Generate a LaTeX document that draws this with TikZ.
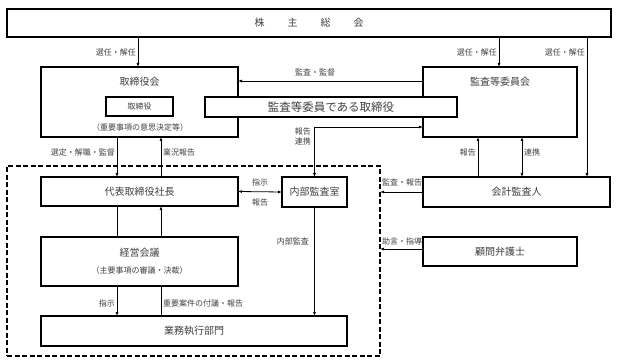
\documentclass[tikz,border=0pt]{standalone}
\usepackage{fontspec}
\newfontfamily\jp{Noto Sans CJK JP}
\usetikzlibrary{arrows.meta,calc}
\begin{document}
\begin{tikzpicture}[x=1pt,y=-1pt,
  box/.style={draw,line width=1.3pt,fill=white,inner sep=0pt,outer sep=0pt,anchor=north west,text=black!75,font=\jp\fontsize{10}{12}\selectfont},
  ttl/.style={text=black!75,font=\jp\fontsize{10}{12}\selectfont},
  sub/.style={text=black!75,font=\jp\fontsize{8}{10}\selectfont},
  lbl/.style={inner sep=1pt,font=\jp\fontsize{8}{9}\selectfont,text=black!75},
  arr/.style={line width=0.8pt,-{Latex[length=4pt,width=3pt]}},
  darr/.style={line width=0.8pt,{Latex[length=4pt,width=3pt]}-{Latex[length=4pt,width=3pt]}},
  ln/.style={line width=0.8pt}]
\useasboundingbox (0,0) rectangle (617,363);
% dashed group
\node[draw,dash pattern=on 5pt off 2.5pt,line width=1.2pt,inner sep=0pt,outer sep=0pt,anchor=north west,minimum width=373pt,minimum height=190pt] (grp) at (7,166) {};
% boxes
\node[box,minimum width=604pt,minimum height=28pt] (top) at (7,9) {株\hspace{2.3em}主\hspace{2.3em}総\hspace{2.3em}会};
\node[box,minimum width=197pt,minimum height=70pt] (tori) at (41,67) {};
\node[ttl] (toriT) at (139.5,82) {取締役会};
\node[box,minimum width=154pt,minimum height=70pt] (kansa) at (423,67) {};
\node[ttl] (kansaT) at (500,82) {監査等委員会};
\node[box,minimum width=67pt,minimum height=19pt,font=\jp\fontsize{8}{10}\selectfont] (torin) at (106,97) {取締役};
\node[sub] (juyo) at (140,127) {（重要事項の意思決定等）};
\node[box,minimum width=252pt,minimum height=20pt,font=\jp\fontsize{11.5}{13}\selectfont] (kdt) at (205,97) {監査等委員である取締役};
\node[box,minimum width=197pt,minimum height=29pt] (daihyo) at (41,177) {代表取締役社長};
\node[box,minimum width=65pt,minimum height=30pt] (naibu) at (282,177) {内部監査室};
\node[box,minimum width=187pt,minimum height=30pt] (kaikei) at (423,177) {会計監査人};
\node[box,minimum width=197pt,minimum height=49pt] (keiei) at (41,237) {};
\node[ttl] (keieiT) at (139.5,253) {経営会議};
\node[sub] (keieiS) at (139.5,270) {（主要事項の審議・決裁）};
\node[box,minimum width=154pt,minimum height=29pt] (komon) at (423,237) {顧問弁護士};
\node[box,minimum width=306pt,minimum height=30pt] (gyomu) at (41,316) {業務執行部門};
% x positions
\coordinate (xl) at (117,0);
\coordinate (xr) at (161,0);
\coordinate (xa) at (138,0);
\coordinate (xb) at (499,0);
\coordinate (xc) at (587,0);
\coordinate (xd) at (478,0);
\coordinate (xe) at (522,0);
\coordinate (yk) at (0,127);
\coordinate (ym) at (0,81);
\coordinate (yc) at (0,249);
% connectors
\draw[arr] (top.south -| xa) -- (tori.north -| xa);
\draw[arr] (top.south -| xb) -- (kansa.north -| xb);
\draw[arr] (top.south -| xc) -- (kaikei.north -| xc);
\draw[arr] (kansa.west |- ym) -- (tori.east |- ym);
\draw[darr] (naibu.north) -- (naibu.north |- yk) -- (kansa.west |- yk);
\draw[arr] (tori.south -| xl) -- (daihyo.north -| xl);
\draw[arr] (daihyo.north -| xr) -- (tori.south -| xr);
\draw[darr] (daihyo.east) -- (naibu.west);
\draw[ln] (daihyo.south -| xl) -- (keiei.north -| xl);
\draw[arr] (keiei.north -| xr) -- (daihyo.south -| xr);
\draw[arr] (keiei.south -| xl) -- (gyomu.north -| xl);
\draw[ln] (keiei.south -| xr) -- (gyomu.north -| xr);
\draw[arr] (naibu.south) -- (gyomu.north -| naibu.south);
\draw[arr] (kaikei.north -| xd) -- (kansa.south -| xd);
\draw[darr] (kaikei.north -| xe) -- (kansa.south -| xe);
\draw[arr] (kaikei.west) -- (grp.east |- kaikei.west);
\draw[arr] (komon.west |- yc) -- (grp.east |- yc);
% labels
\node[lbl,anchor=east] (l1) at (137,52) {選任・解任};
\node[lbl,anchor=east] (l2) at (498,52) {選任・解任};
\node[lbl,anchor=east] (l3) at (586,52) {選任・解任};
\node[lbl] (l4) at (315,72) {監査・監督};
\node[lbl,anchor=east] (l5) at (312,131) {報告};
\node[lbl,anchor=east] (l6) at (312,141) {連携};
\node[lbl,anchor=east] (l7) at (116,152) {選定・解職・監督};
\node[lbl,anchor=west] (l8) at (162,152) {業況報告};
\node[lbl] (l9) at (260,182) {指示};
\node[lbl] (l10) at (260,202) {報告};
\node[lbl,anchor=east] (l11) at (477,152) {報告};
\node[lbl,anchor=west] (l12) at (523,152) {連携};
\node[lbl,anchor=west] (l13) at (381,182) {監査・報告};
\node[lbl,anchor=west] (l14) at (381,241) {助言・指導};
\node[lbl,anchor=east] (l15) at (310,241) {内部監査};
\node[lbl,anchor=east] (l16) at (116,303) {指示};
\node[lbl,anchor=west] (l17) at (162,303) {重要案件の付議・報告};
\end{tikzpicture}
\end{document}
